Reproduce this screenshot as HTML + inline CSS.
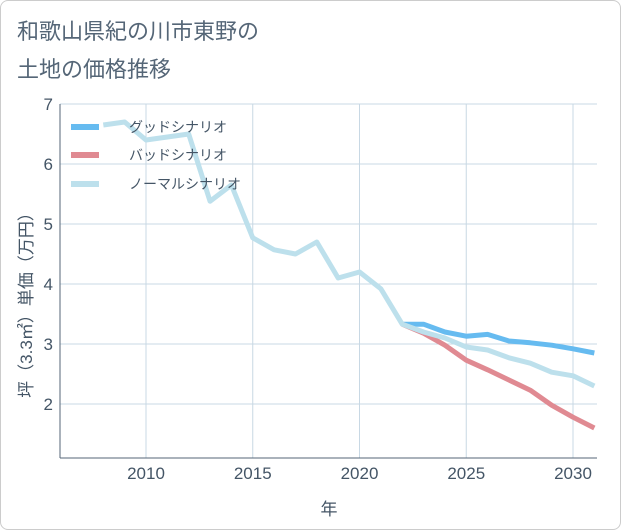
<!DOCTYPE html>
<html><head><meta charset="utf-8"><style>
body{margin:0;background:#fff;}
#wrap{width:619px;height:528px;border:1px solid #ccc;border-radius:8px;position:relative;overflow:hidden;font-family:"Liberation Sans","Noto Sans CJK JP",sans-serif;}
</style></head><body>
<div id="wrap">
<svg id="c" width="619" height="528"></svg>
</div>
<script>
const years=[2008,2009,2010,2011,2012,2013,2014,2015,2016,2017,2018,2019,2020,2021,2022,2023,2024,2025,2026,2027,2028,2029,2030,2031];
const normal=[6.65,6.7,6.4,6.45,6.5,5.38,5.65,4.77,4.57,4.5,4.7,4.1,4.2,3.92,3.33,3.2,3.1,2.95,2.9,2.77,2.68,2.53,2.47,2.3];
const goodYears=[2022,2023,2024,2025,2026,2027,2028,2029,2030,2031];
const good=[3.33,3.33,3.2,3.13,3.16,3.05,3.02,2.98,2.92,2.85];
const bad=[3.33,3.18,2.98,2.73,2.57,2.4,2.23,1.98,1.78,1.6];
const xTicks=[2010,2015,2020,2025,2030];
const yTicks=[2,3,4,5,6,7];
const svg=document.getElementById('c');const NS='http://www.w3.org/2000/svg';
const L=59,R=596,T=103,B=457;
const x=v=>145+(v-2010)*21.35;
const y=v=>103+(7-v)*60;
function mk(t,a,p){const e=document.createElementNS(NS,t);for(const k in a)e.setAttribute(k,a[k]);(p||svg).appendChild(e);return e;}
function txt(s,a){const e=mk('text',a);e.textContent=s;return e;}
let g=mk('g',{});


for(const t of yTicks){mk('line',{x1:L,x2:R,y1:y(t),y2:y(t),stroke:'#c8d8e4','stroke-width':1},g);
const e=txt(t,{x:52,y:y(t)+6,'text-anchor':'end','font-size':17,fill:'#445566'});
}
for(const t of xTicks){mk('line',{x1:x(t),x2:x(t),y1:T,y2:B,stroke:'#c8d8e4','stroke-width':1},g);
const e=txt(t,{x:x(t),y:478,'text-anchor':'middle','font-size':17,fill:'#445566'});
}
mk('line',{x1:L,x2:L,y1:T,y2:B,stroke:'#556677'});mk('line',{x1:L,x2:R,y1:B,y2:B,stroke:'#556677'});
function line(xs,vs,c,n){const p=mk('polyline',{points:xs.map((v,i)=>x(v)+','+y(vs[i])).join(' '),fill:'none',stroke:c,'stroke-width':5,'stroke-linejoin':'round'});
}
line(goodYears,good,'#66bbf0','good-scenario-line');
line(goodYears,bad,'#e08a92','bad-scenario-line');
line(years,normal,'#bde0ec','normal-scenario-line');
const leg=[['グッドシナリオ','#66bbf0',126],['バッドシナリオ','#e08a92',154],['ノーマルシナリオ','#bde0ec',183]];
for(const [s,c,yy] of leg){mk('line',{x1:70,x2:98,y1:yy,y2:yy,stroke:c,'stroke-width':6});
const e=txt(s,{x:128,y:yy+5,'font-size':14,fill:'#445566'});}
let t1=txt('和歌山県紀の川市東野の',{x:16,y:38,'font-size':22,fill:'#556677'});
let t2=txt('土地の価格推移',{x:16,y:76,'font-size':22,fill:'#556677'});
let xt=txt('年',{x:328,y:514,'text-anchor':'middle','font-size':17,fill:'#445566'});
let yt=txt('坪（3.3㎡）単価（万円）',{x:0,y:0,'text-anchor':'middle','font-size':17,fill:'#445566',transform:'translate(31,300) rotate(-90)'});
</script>
</body></html>
